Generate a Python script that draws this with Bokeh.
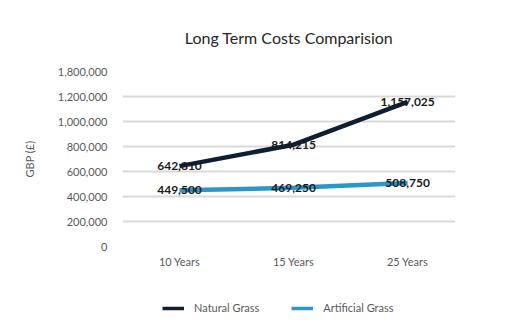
from bokeh.plotting import figure
from bokeh.layouts import column
from bokeh.models import Range1d, FixedTicker, Legend, LegendItem, ColumnDataSource
from bokeh.core.properties import value
from bokeh.embed import file_html
from bokeh.resources import INLINE

categories = ["10 Years", "15 Years", "25 Years"]
natural_grass = [642810, 814215, 1157025]
artificial_grass = [449500, 469250, 508750]
y_ticks = [0, 200000, 400000, 600000, 800000, 1000000, 1200000, 1400000]
y_tick_labels = ["0", "200,000", "400,000", "600,000", "800,000", "1,000,000", "1,200,000", "1,800,000"]
series_names = ["Natural Grass", "Artificial Grass"]

FONT = "Lato"
NAT_COLOR = "#0e1f33"
ART_COLOR = "#2a97c8"
xs = list(range(len(categories)))

p = figure(width=512, height=288, output_backend="svg", toolbar_location=None,
           x_range=Range1d(-0.5, 2.42), y_range=Range1d(0, 1400000),
           min_border_left=122, min_border_right=57, min_border_top=69, min_border_bottom=42,
           background_fill_color="white", border_fill_color="white", outline_line_color=None)

p.title.text = "Long Term Costs Comparision"
p.title.align = "center"
p.title.text_font = FONT
p.title.text_font_size = "16px"
p.title.text_font_style = "normal"
p.title.text_color = "#262626"
p.title.standoff = 50
p.title.offset = -4

p.xaxis.ticker = FixedTicker(ticks=xs)
p.xaxis.major_label_overrides = {i: c for i, c in enumerate(categories)}
p.yaxis.ticker = FixedTicker(ticks=y_ticks)
p.yaxis.major_label_overrides = {t: l for t, l in zip(y_ticks, y_tick_labels)}
for ax in (p.xaxis, p.yaxis):
    ax.axis_line_color = None
    ax.major_tick_line_color = None
    ax.minor_tick_line_color = None
    ax.major_label_text_font = FONT
    ax.major_label_text_font_size = "11px"
    ax.major_label_text_color = "#595959"
p.yaxis.major_label_standoff = 9
p.xaxis.major_label_standoff = 2
p.yaxis.axis_label = "GBP (£)"
p.yaxis.axis_label_text_font = FONT
p.yaxis.axis_label_text_font_size = "11px"
p.yaxis.axis_label_text_font_style = "normal"
p.yaxis.axis_label_text_color = "#595959"
p.yaxis.axis_label_standoff = 19

p.xgrid.grid_line_color = None
p.ygrid.grid_line_color = "#d9d9d9"
p.ygrid.grid_line_width = 2

src = ColumnDataSource(dict(x=xs, nat=natural_grass, art=artificial_grass,
                            nat_lbl=[f"{v:,}" for v in natural_grass],
                            art_lbl=[f"{v:,}" for v in artificial_grass]))

p.line("x", "nat", source=src, line_color=NAT_COLOR, line_width=4.5)
p.line("x", "art", source=src, line_color=ART_COLOR, line_width=4.5)

for col in ("nat_lbl", "art_lbl"):
    p.text("x", col.replace("_lbl", ""), text=col, source=src,
           text_font=value(FONT), text_font_size="12px", text_font_style="bold",
           text_color="#1a1a1a", text_align="center", text_baseline="middle")

# legend strip below the chart (swatch renderers sit outside the visible range)
lf = figure(width=512, height=46, output_backend="svg", toolbar_location=None,
            x_axis_type=None, y_axis_type=None, min_border=0,
            x_range=Range1d(0, 1), y_range=Range1d(0, 1),
            background_fill_color="white", border_fill_color="white", outline_line_color=None)
lf.xgrid.grid_line_color = None
lf.ygrid.grid_line_color = None
g_nat = lf.line(x=[5, 6], y=[5, 5], line_color=NAT_COLOR, line_width=3.5)
g_art = lf.line(x=[5, 6], y=[5, 5], line_color=ART_COLOR, line_width=3.5)
legend = Legend(items=[LegendItem(label=series_names[0], renderers=[g_nat]),
                       LegendItem(label=series_names[1], renderers=[g_art])],
                orientation="horizontal", location=(40, 20),
                label_text_font=FONT, label_text_font_size="11px", label_text_color="#595959",
                glyph_width=22, glyph_height=10, spacing=32, label_standoff=10,
                border_line_color=None, background_fill_alpha=0, margin=0, padding=5)
lf.add_layout(legend, "center")

open("out.html", "w").write(file_html(column(p, lf, spacing=0), INLINE))
